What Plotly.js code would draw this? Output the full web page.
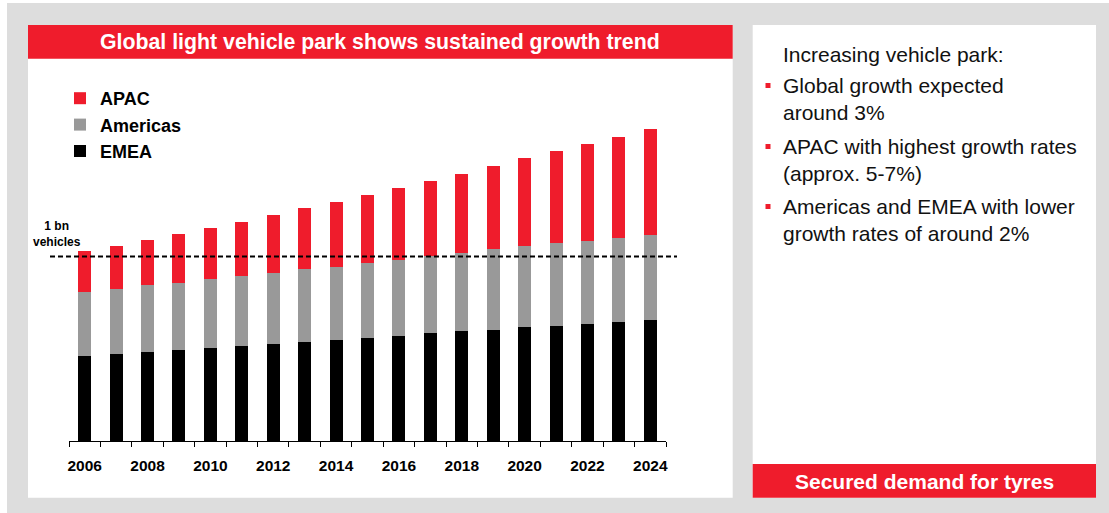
<!DOCTYPE html>
<html>
<head>
<meta charset="utf-8">
<script src="https://cdn.plot.ly/plotly-3.0.1.min.js"></script>
<style>html,body{margin:0;padding:0;background:#fff;}#chart{width:1109px;height:513px;}</style>
</head>
<body>
<div id="chart"></div>
<script>
// ---- data ----
const years = [2006,2007,2008,2009,2010,2011,2012,2013,2014,2015,2016,2017,2018,2019,2020,2021,2022,2023,2024];
const emea = [461,472,482,493,504,515,526,537,547,558,569,585,596,602,618,623,634,645,656];
const americas = [348,352,364,363,374,379,385,395,398,408,414,419,425,440,441,452,452,457,462];
const apac = [221,233,243,266,276,293,314,331,352,367,388,405,426,449,475,497,524,546,573];
const seriesNames = ["EMEA","Americas","APAC"];
const tickYears = [2006,2008,2010,2012,2014,2016,2018,2020,2022,2024];
const refLine = 1000;
const refLabel = "1 bn<br>vehicles";
const chartTitle = "Global light vehicle park shows sustained growth trend";
const sideHeading = "Increasing vehicle park:";
const bulletItems = ["Global growth expected<br>around 3%", "APAC with highest growth rates<br>(approx. 5-7%)", "Americas and EMEA with lower<br>growth rates of around 2%"];
const footerText = "Secured demand for tyres";

// ---- styling ----
const RED = "#ef1c2c", GRAY = "#999999", BLACK = "#000000", BG = "#dddddd";
const FONT = "Liberation Sans, Arial, sans-serif";
const W = 1109, H = 513;
const L = 69, R = 666, B = 441, T = 109;
const px2x = p => (p - L) / (R - L);
const py2y = p => (B - p) / (B - T);

const traces = [
  {type:"bar", x: years, y: emea, name: seriesNames[0], marker:{color:BLACK}},
  {type:"bar", x: years, y: americas, name: seriesNames[1], marker:{color:GRAY}},
  {type:"bar", x: years, y: apac, name: seriesNames[2], marker:{color:RED}},
  // invisible trace to carry boundary ticks on xaxis2
  {type:"scatter", x: [years[0]], y: [0], xaxis:"x2", mode:"markers", marker:{opacity:0}, showlegend:false, hoverinfo:"skip"}
];

function rect(x0,y0,x1,y1,color){
  return {type:"rect", xref:"paper", yref:"paper", x0:px2x(x0), x1:px2x(x1), y0:py2y(y1), y1:py2y(y0),
          fillcolor:color, line:{width:0}, layer:"below"};
}

const shapes = [
  rect(7,3,1109,513,BG),
  rect(28,25,732.7,497.7,"#ffffff"),
  rect(752.7,25,1096,497.7,"#ffffff"),
  rect(28,25,732.7,58.7,RED),
  rect(752.7,464,1096,497.7,RED),
  {type:"line", xref:"paper", yref:"y", x0:px2x(50), x1:px2x(677), y0:refLine, y1:refLine,
   line:{color:"#000", width:2, dash:"5px,3px"}, layer:"above"}
];

const bulletY = [85.5, 146.5, 206.5];
bulletY.forEach(by => shapes.push(rect(765.5, by-2.5, 770.5, by+2.5, RED)));

const annotations = [
  {xref:"paper", yref:"paper", x:px2x(380), y:py2y(42), text:chartTitle, showarrow:false,
   xanchor:"center", yanchor:"middle", font:{family:FONT, size:21.3, color:"#fff", weight:"bold"}},
  {xref:"paper", yref:"paper", x:px2x(924), y:py2y(481), text:footerText, showarrow:false,
   xanchor:"center", yanchor:"middle", font:{family:FONT, size:21, color:"#fff", weight:"bold"}},
  {xref:"paper", yref:"paper", x:px2x(56.5), y:py2y(234), text:refLabel, showarrow:false,
   xanchor:"center", yanchor:"middle", align:"center", font:{family:FONT, size:12, color:"#000", weight:"bold"}},
  {xref:"paper", yref:"paper", x:px2x(781), y:py2y(55), text:sideHeading, showarrow:false,
   xanchor:"left", yanchor:"middle", align:"left", font:{family:FONT, size:21, color:"#111"}}
];
bulletItems.forEach((t,i) => annotations.push({
  xref:"paper", yref:"paper", x:px2x(781), y:py2y(bulletY[i]-13.7), text:t, showarrow:false,
  xanchor:"left", yanchor:"top", align:"left", font:{family:FONT, size:21, color:"#111"}
}));

const xr = [years[0]-0.5, years[years.length-1]+0.5];
const boundaries = years.map(y => y-0.5).concat([years[years.length-1]+0.5]);

const layout = {
  width: W, height: H,
  margin:{l:L, r:W-R, t:T, b:H-B, pad:0},
  paper_bgcolor:"#ffffff", plot_bgcolor:"rgba(0,0,0,0)",
  barmode:"stack", bargap:0.585,
  font:{family:FONT, color:"#000"},
  showlegend:true,
  legend:{x:px2x(60), y:py2y(80), xanchor:"left", yanchor:"top", traceorder:"reversed",
          bgcolor:"rgba(0,0,0,0)", borderwidth:0,
          font:{family:FONT, size:18, color:"#000", weight:"bold"}},
  xaxis:{range:xr, tickmode:"array", tickvals:tickYears, ticktext:tickYears.map(String),
         ticks:"outside", ticklen:5, tickcolor:"rgba(0,0,0,0)", showgrid:false, zeroline:false,
         showline:true, linecolor:"#000", linewidth:1, ticklabelstandoff:5,
         tickfont:{family:FONT, size:15.5, color:"#000", weight:"bold"}, fixedrange:true},
  xaxis2:{overlaying:"x", range:xr, tickmode:"array", tickvals:boundaries, ticktext:boundaries.map(()=>""),
          ticks:"outside", ticklen:5, tickwidth:1, tickcolor:"#000", showticklabels:false,
          showgrid:false, zeroline:false, showline:false, side:"bottom", anchor:"y", fixedrange:true},
  yaxis:{range:[0,1800], showgrid:false, zeroline:false, showline:false, showticklabels:false, ticks:"", fixedrange:true},
  shapes: shapes,
  annotations: annotations
};

Plotly.newPlot("chart", traces, layout, {displayModeBar:false, staticPlot:true});
</script>
</body>
</html>
